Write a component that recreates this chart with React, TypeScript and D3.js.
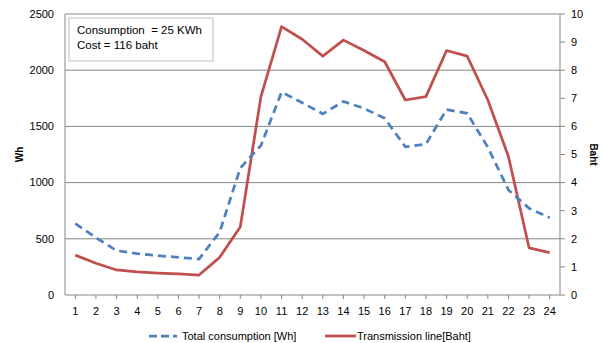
import React from "react";
import * as d3 from "d3";

const hours = [1,2,3,4,5,6,7,8,9,10,11,12,13,14,15,16,17,18,19,20,21,22,23,24];
const consumptionWh = [635,510,395,368,350,335,320,560,1130,1330,1805,1710,1612,1722,1660,1572,1318,1343,1650,1616,1315,935,772,688];
const transmissionBaht = [1.42,1.13,0.89,0.82,0.78,0.75,0.71,1.34,2.43,7.06,9.55,9.1,8.5,9.07,8.7,8.3,6.94,7.06,8.7,8.5,6.94,4.93,1.68,1.51];
const leftTicks = [0,500,1000,1500,2000,2500];
const rightTicks = [0,1,2,3,4,5,6,7,8,9,10];
const seriesNames = ["Total consumption [Wh]", "Transmission line[Baht]"];
const infoLines = ["Consumption  = 25 KWh", "Cost = 116 baht"];

const W = 604, H = 343;
const L = 65, R = 560, T = 14, B = 295;
const FONT = "'Liberation Sans', Arial, sans-serif";

export default function App() {
  const x = d3.scaleBand<number>().domain(hours).range([L, R]);
  const xc = (h: number) => (x(h) as number) + x.bandwidth() / 2;
  const yL = d3.scaleLinear().domain([0, 2500]).range([B, T]);
  const yR = d3.scaleLinear().domain([0, 10]).range([B, T]);
  const lineL = d3.line<number>().x((_, i) => xc(hours[i])).y(d => yL(d));
  const lineR = d3.line<number>().x((_, i) => xc(hours[i])).y(d => yR(d));
  const blue = "#4F81BD", red = "#C0504D", grid = "#878787";
  return (
    <svg width={W} height={H} style={{ position: "absolute", left: 0, top: 0 }} fontFamily={FONT}>
      <rect x={0} y={0} width={W} height={H} fill="#fff" />
      {leftTicks.map(t => (
        <g key={t}>
          {t > 0 && <line x1={L} x2={R} y1={yL(t)} y2={yL(t)} stroke={grid} strokeWidth={1} />}
          <text x={54} y={yL(t)} dy="0.35em" textAnchor="end" fontSize={11} fill="#000">{t}</text>
        </g>
      ))}
      {rightTicks.map(t => (
        <g key={t}>
          <line x1={R} x2={R + 5} y1={yR(t)} y2={yR(t)} stroke={grid} />
          <text x={571} y={yR(t)} dy="0.35em" textAnchor="start" fontSize={11} fill="#000">{t}</text>
        </g>
      ))}
      <line x1={L} x2={L} y1={T} y2={B} stroke={grid} />
      <line x1={R} x2={R} y1={T} y2={B} stroke={grid} />
      <line x1={L} x2={R} y1={B} y2={B} stroke={grid} />
      {hours.map(h => (
        <g key={h}>
          <line x1={xc(h)} x2={xc(h)} y1={B} y2={B + 4} stroke={grid} />
          <text x={xc(h)} y={311} dy="0.35em" textAnchor="middle" fontSize={11} fill="#000">{h}</text>
        </g>
      ))}
      <path d={lineR(transmissionBaht) || ""} fill="none" stroke={red} strokeWidth={2.75} strokeLinejoin="round" />
      <path d={lineL(consumptionWh) || ""} fill="none" stroke={blue} strokeWidth={2.75} strokeDasharray="8,5" />
      <rect x={69} y={18} width={144} height={43} fill="#fff" stroke="#bfbfbf" />
      <text x={77} y={34} fontSize={11.5} fill="#000" style={{ whiteSpace: "pre" }}>{infoLines[0]}</text>
      <text x={77} y={49} fontSize={11.5} fill="#000">{infoLines[1]}</text>
      <text transform={`translate(23,${(T + B) / 2}) rotate(-90)`} textAnchor="middle" fontSize={10} fontWeight="bold">Wh</text>
      <text transform={`translate(590,${(T + B) / 2}) rotate(90)`} textAnchor="middle" fontSize={10} fontWeight="bold">Baht</text>
      <line x1={149} x2={177} y1={336} y2={336} stroke={blue} strokeWidth={2.75} strokeDasharray="8,4" />
      <text x={182} y={336} dy="0.35em" fontSize={11} fill="#000">{seriesNames[0]}</text>
      <line x1={325} x2={356} y1={336} y2={336} stroke={red} strokeWidth={2.75} />
      <text x={357} y={336} dy="0.35em" fontSize={11} fill="#000">{seriesNames[1]}</text>
    </svg>
  );
}
